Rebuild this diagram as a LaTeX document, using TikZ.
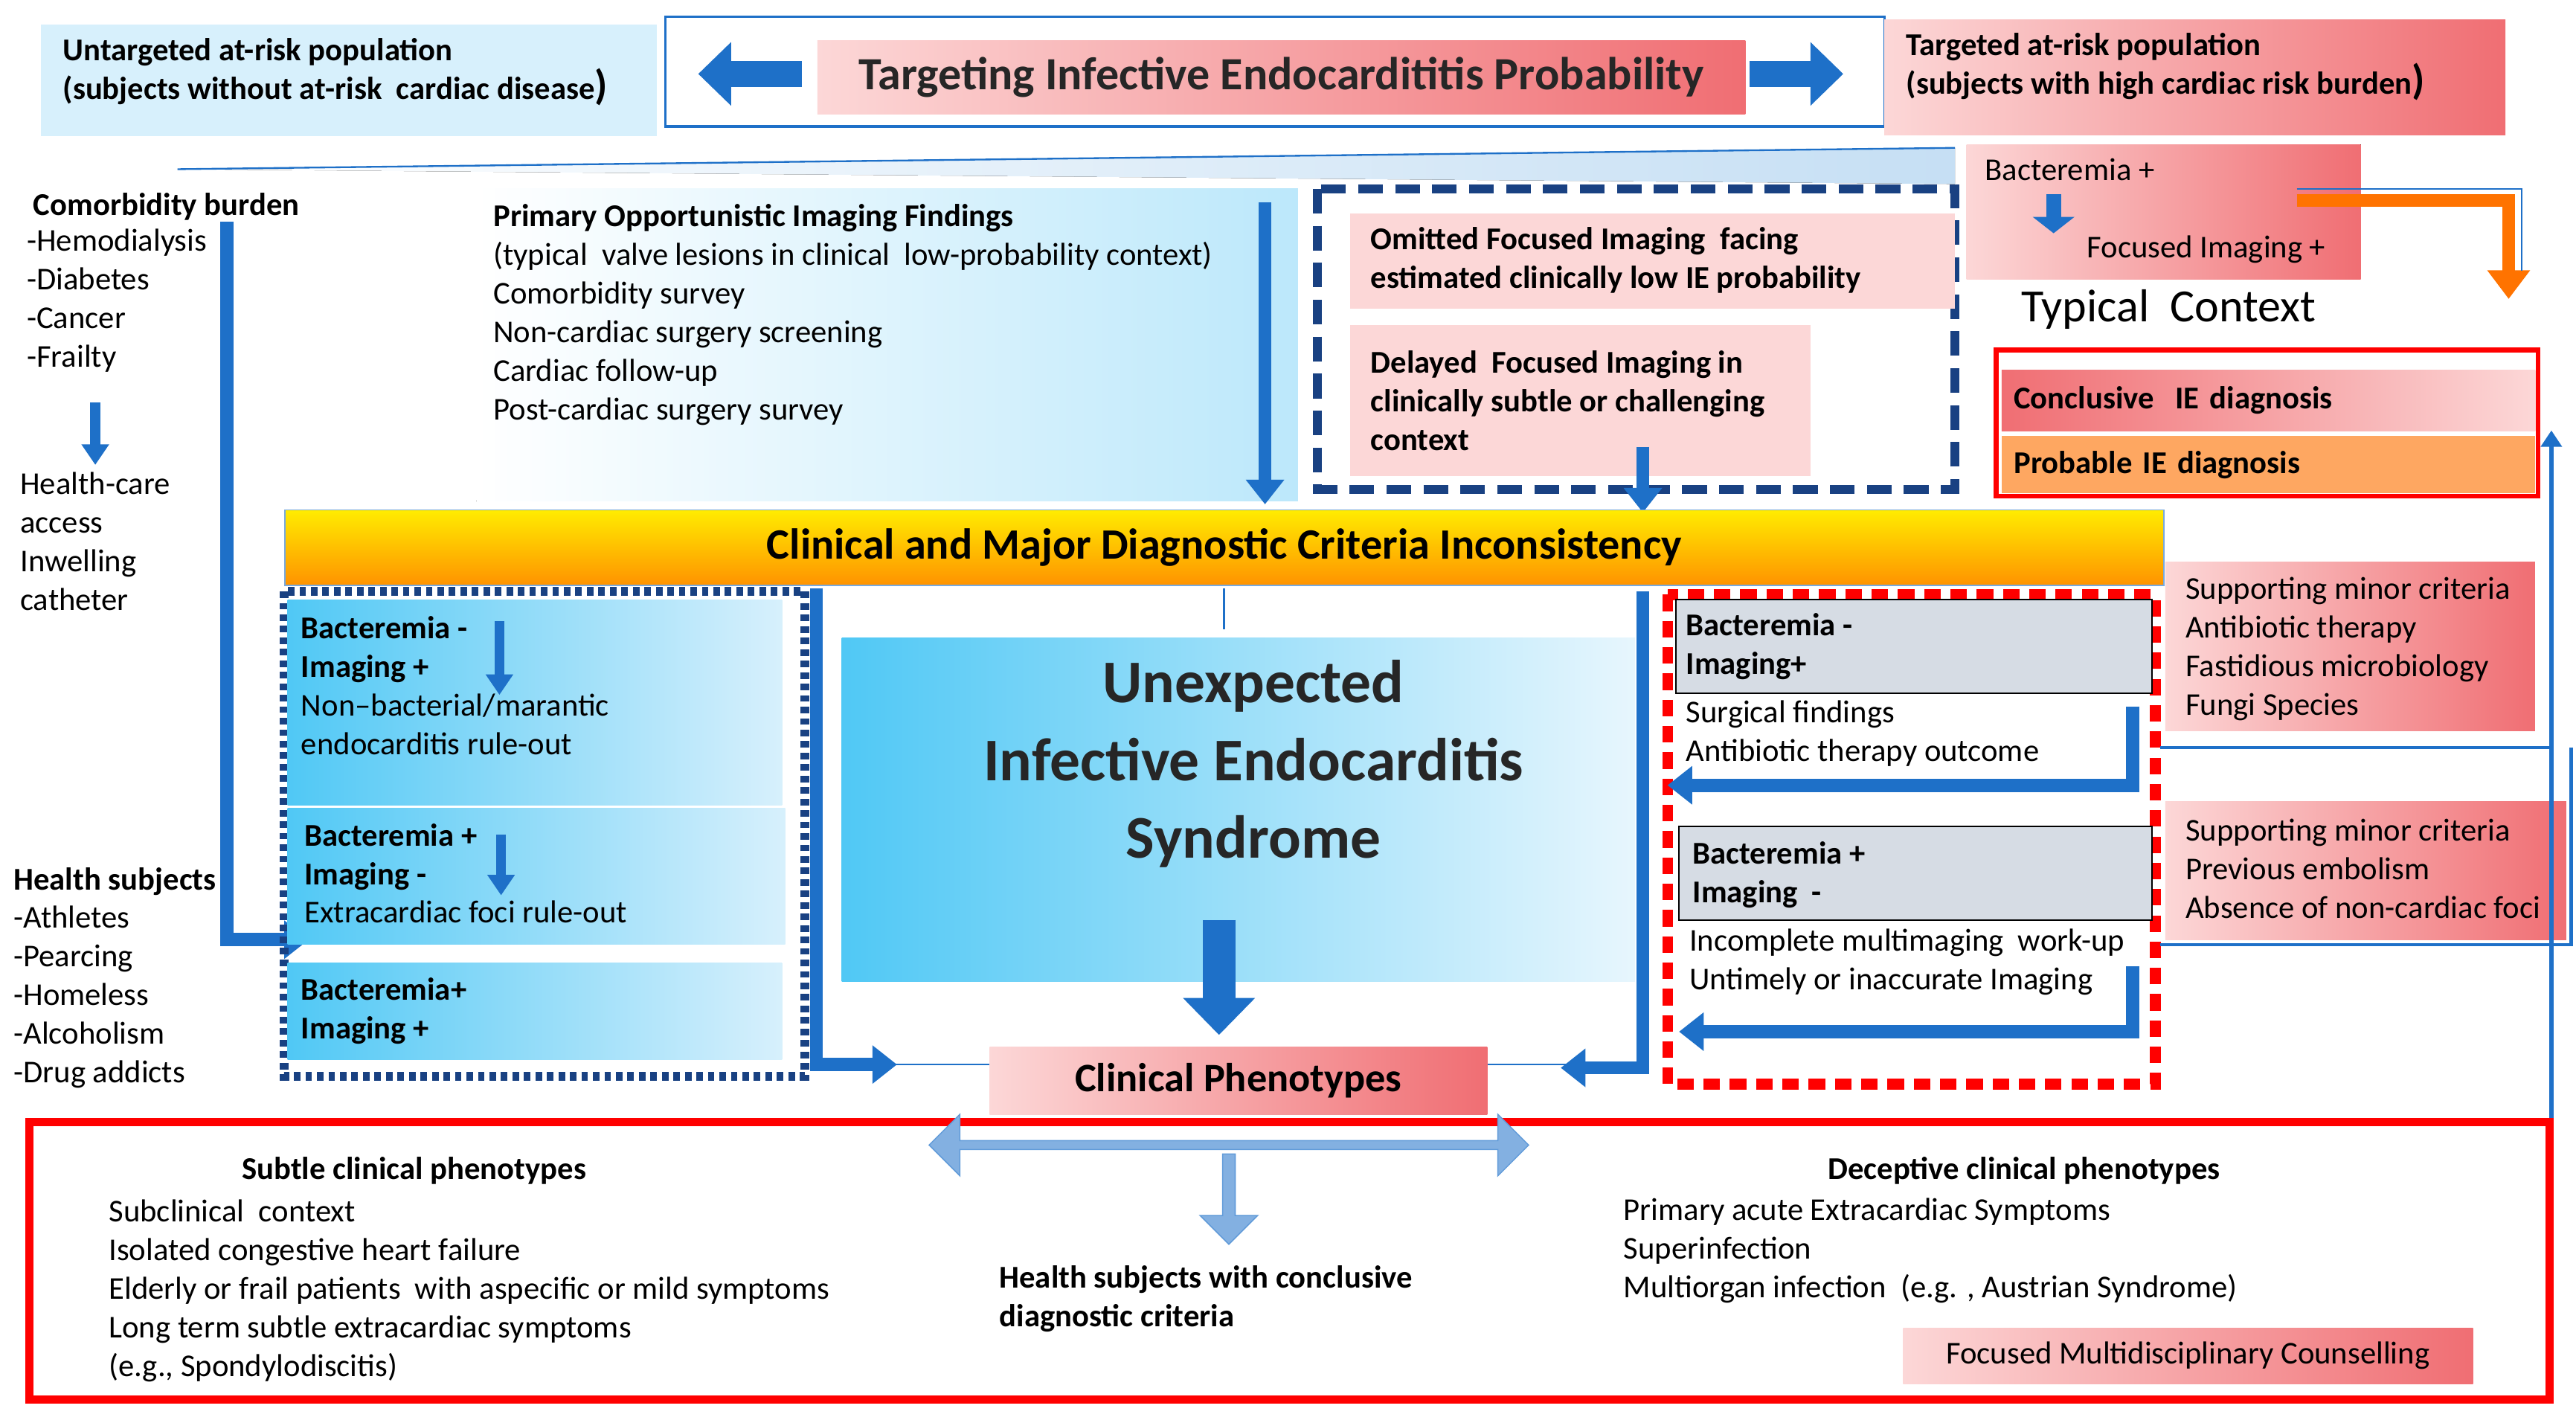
\documentclass[tikz,border=0pt]{standalone}
\usepackage{fontspec}
\setmainfont{Carlito}
\usetikzlibrary{arrows.meta,shapes.arrows}
\definecolor{ablue}{RGB}{30,112,200}
\definecolor{navy}{RGB}{25,65,130}
\definecolor{pinkA}{RGB}{240,110,115}
\definecolor{pinkB}{RGB}{252,215,215}
\definecolor{skyA}{RGB}{80,200,245}
\definecolor{skyB}{RGB}{215,240,252}
\definecolor{grayb}{RGB}{214,220,228}
\begin{document}
\begin{tikzpicture}[x=0.02cm,y=-0.02cm,
  txt/.style={anchor=north west,align=left,inner sep=0pt,font=\fontsize{11}{13.4}\selectfont},
  btxt/.style={txt,font=\fontsize{11}{13.4}\selectfont\bfseries},
  pinkbox/.style={left color=pinkA,right color=pinkB,draw=none},
  pinkboxr/.style={left color=pinkB,right color=pinkA,draw=none},
  skybox/.style={left color=skyA,right color=skyB,draw=none},
  fat/.style={ablue,line width=0.16cm,-{Triangle[width=0.45cm,length=0.3cm]}},
  thin/.style={ablue,line width=0.6pt},
  small/.style={ablue,line width=0.12cm,-{Triangle[width=0.32cm,length=0.25cm]}}]
\useasboundingbox (0,0) rectangle (1568,864);
% top row
\fill[skyB] (25,15) rectangle (400,83);
\node[btxt] (untg) at (38,23) {Untargeted at-risk population\\(subjects without at-risk\ \ cardiac disease{\Large)}};
\draw[ablue,line width=0.8pt,fill=white] (405,10) rectangle (1147,77);
\node[pinkboxr,minimum width=11.3cm,minimum height=0.9cm,font=\fontsize{16}{19}\selectfont\bfseries,text=black!85] (title) at (780,47) {Targeting Infective Endocardititis Probability};
\coordinate (la) at (488,45); \coordinate (lb) at (425,45);
\draw[ablue,line width=0.32cm,-{Triangle[width=0.75cm,length=0.4cm]}] (la) -- (lb);
\coordinate (ra) at (1065,45); \coordinate (rb) at (1122,45);
\draw[ablue,line width=0.32cm,-{Triangle[width=0.75cm,length=0.4cm]}] (ra) -- (rb);
\fill[pinkboxr] (1147,12) rectangle (1525,82);
\node[btxt] (tg) at (1160,20) {Targeted at-risk population\\(subjects with high cardiac risk burden{\Large)}};
% wedge
\fill[left color=white,right color=skyB!70!ablue!60] (108,103) -- (1190,90) -- (1190,112) -- cycle;
\draw[thin] (108,103) -- (1190,90);
% left texts
\node[btxt] (comorb) at (20,117) {Comorbidity burden};
\node[txt] (clist) at (16,139) {-Hemodialysis\\-Diabetes\\-Cancer\\-Frailty};
\coordinate (h1) at (58,245); \coordinate (h2) at (58,283);
\draw[small] (h1) -- (h2);
\node[txt] (hc) at (12,287) {Health-care\\access\\Inwelling\\catheter};
\node[btxt] (hs) at (8,528) {Health subjects};
\node[txt] (hlist) at (8,551) {-Athletes\\-Pearcing\\-Homeless\\-Alcoholism\\-Drug addicts};
\coordinate (v1) at (138,135); \coordinate (v2) at (138,572); \coordinate (v3) at (188,572);
\draw[fat] (v1) -- (v2) -- (v3);
% primary opportunistic
\fill[left color=white,right color=skyB!80!skyA] (290,115) rectangle (790,305);
\node[btxt] (pof) at (300,124) {Primary Opportunistic Imaging Findings};
\node[txt] (plist) at (300,147) {(typical\ \ valve lesions in clinical\ \ low-probability context)\\Comorbidity survey\\Non-cardiac surgery screening\\Cardiac follow-up\\Post-cardiac surgery survey};
\coordinate (d1) at (770,123); \coordinate (d2) at (770,307);
\draw[fat] (d1) -- (d2);
% dashed box
\draw[navy,line width=0.11cm,dash pattern=on 0.3cm off 0.15cm] (802,115) rectangle (1190,298);
\fill[pinkB] (822,130) rectangle (1190,188);
\node[btxt] (om) at (834,138) {Omitted Focused Imaging\ \ facing\\estimated clinically low IE probability};
\fill[pinkB] (822,198) rectangle (1102,290);
\node[btxt] (del) at (834,213) {Delayed\ \ Focused Imaging in\\clinically subtle or challenging\\context};
\coordinate (e1) at (1000,272); \coordinate (e2) at (1000,312);
\draw[fat] (e1) -- (e2);
% top right
\fill[pinkboxr] (1197,88) rectangle (1437,170);
\node[txt] (bp) at (1208,96) {Bacteremia +};
\node[txt] (fi) at (1270,143) {Focused Imaging +};
\coordinate (f1) at (1250,118); \coordinate (f2) at (1250,142);
\draw[small,line width=0.18cm,-{Triangle[width=0.5cm,length=0.2cm]}] (f1) -- (f2);
\coordinate (o1) at (1398,122); \coordinate (o2) at (1527,122); \coordinate (o3) at (1527,182);
\draw[orange!90!red,line width=0.16cm,-{Triangle[width=0.5cm,length=0.35cm]}] (o1) -- (o2) -- (o3);
\draw[ablue,line width=0.5pt] (1398,115) -- (1535,115) -- (1535,165);
\node[anchor=north,inner sep=0pt,font=\fontsize{16}{19}\selectfont] (tc) at (1320,176) {Typical\ \ Context};
\draw[red,line width=1.6pt] (1215,213) rectangle (1545,302);
\node[pinkbox,anchor=north west,minimum width=6.5cm,minimum height=0.74cm,text width=6.2cm,font=\fontsize{11}{13}\selectfont\bfseries] (conc) at (1218,225) {Conclusive\ \ IE diagnosis};
\node[fill=orange!55!pinkB,anchor=north west,minimum width=6.5cm,minimum height=0.7cm,text width=6.2cm,font=\fontsize{11}{13}\selectfont\bfseries] (prob) at (1218,265) {Probable IE diagnosis};
% yellow bar
\node[top color=yellow!85!orange,bottom color=orange!85!yellow,draw=ablue!60,anchor=north west,minimum width=22.88cm,minimum height=0.92cm,font=\fontsize{15}{18}\selectfont\bfseries] (bar) at (173,310) {Clinical and Major Diagnostic Criteria Inconsistency};
% left column
\draw[navy,line width=0.11cm,dash pattern=on 0.08cm off 0.06cm] (173,360) rectangle (490,655);
\draw[black,line width=1pt,skybox] (175,365) rectangle (476,490);
\node[btxt] (b1) at (183,375) {Bacteremia -\\Imaging +};
\node[txt] (b1t) at (183,422) {Non--bacterial/marantic\\endocarditis rule-out};
\coordinate (s1) at (304,378); \coordinate (s2) at (304,423);
\draw[small] (s1) -- (s2);
\draw[black,line width=1pt,skybox] (175,492) rectangle (478,575);
\node[btxt] (b2) at (185,501) {Bacteremia +\\Imaging -};
\node[txt] (b2t) at (185,548) {Extracardiac foci rule-out};
\coordinate (s3) at (305,508); \coordinate (s4) at (305,545);
\draw[small] (s3) -- (s4);
\draw[black,line width=1pt,skybox] (175,586) rectangle (476,645);
\node[btxt] (b3) at (183,595) {Bacteremia+\\Imaging +};
\coordinate (l1) at (497,358); \coordinate (l2) at (497,648); \coordinate (l3) at (546,648);
\draw[fat] (l1) -- (l2) -- (l3);
% centre
\draw[thin] (545,648) -- (955,648);
\draw[thin] (745,358) -- (745,383);
\node[left color=skyA,right color=skyB!60,anchor=north west,minimum width=9.66cm,minimum height=4.18cm,inner sep=0pt] (ies) at (512,388) {};
\node[font=\fontsize{21}{27}\selectfont\bfseries,align=center,text=black!85] (iet) at (763,465) {Unexpected\\Infective Endocarditis\\Syndrome};
\coordinate (c1) at (742,560); \coordinate (c2) at (742,630);
\draw[ablue,line width=0.4cm,-{Triangle[width=0.85cm,length=0.45cm]}] (c1) -- (c2);
\node[pinkboxr,anchor=north west,minimum width=6.06cm,minimum height=0.82cm,font=\fontsize{14}{16}\selectfont\bfseries] (cp) at (602,637) {Clinical Phenotypes};
% right column
\coordinate (r1) at (1000,360); \coordinate (r2) at (1000,650); \coordinate (r3) at (950,650);
\draw[fat] (r1) -- (r2) -- (r3);
\draw[red,line width=0.13cm,dash pattern=on 0.2cm off 0.12cm] (1015,362) rectangle (1312,660);
\draw[black,fill=grayb] (1020,365) rectangle (1310,422);
\node[btxt] (g1) at (1026,373) {Bacteremia -\\Imaging+};
\node[txt] (g1t) at (1026,426) {Surgical findings\\Antibiotic therapy outcome};
\coordinate (q1) at (1298,430); \coordinate (q2) at (1298,478); \coordinate (q3) at (1015,478);
\draw[fat] (q1) -- (q2) -- (q3);
\draw[black,fill=grayb] (1022,503) rectangle (1310,560);
\node[btxt] (g2) at (1030,512) {Bacteremia +\\Imaging\ \ -};
\node[txt] (g2t) at (1028,565) {Incomplete multimaging\ \ work-up\\Untimely or inaccurate Imaging};
\coordinate (p1) at (1298,588); \coordinate (p2) at (1298,628); \coordinate (p3) at (1022,628);
\draw[fat] (p1) -- (p2) -- (p3);
\fill[pinkboxr] (1318,342) rectangle (1543,445);
\node[txt] (sm1) at (1330,351) {Supporting minor criteria\\Antibiotic therapy\\Fastidious microbiology\\Fungi Species};
\fill[pinkboxr] (1318,488) rectangle (1562,572);
\node[txt] (sm2) at (1330,498) {Supporting minor criteria\\Previous embolism\\Absence of non-cardiac foci};
\draw[thin,line width=1.2pt] (1315,455) -- (1553,455);
\draw[thin,line width=1.2pt] (1315,575) -- (1565,575) -- (1565,455);
\coordinate (u1) at (1553,690); \coordinate (u2) at (1553,262);
\draw[ablue,line width=1.6pt,-{Triangle[width=0.25cm,length=0.2cm]}] (u1) -- (u2);
% bottom
\draw[red,line width=0.1cm] (18,683) rectangle (1552,852);
\node[single arrow,double arrow,fill=ablue!55,draw=ablue!70,minimum height=7.3cm,minimum width=0.75cm,single arrow head extend=0.1cm,inner sep=1pt] (dbl) at (748,697) {};
\node[single arrow,fill=ablue!55,draw=ablue!70,rotate=-90,minimum height=1.1cm,minimum width=0.7cm,single arrow head extend=0.15cm,inner sep=1pt] (dn) at (748,728) {};
\node[btxt,anchor=north] (sub) at (252,704) {Subtle clinical phenotypes};
\node[txt] (slist) at (66,730) {Subclinical\ \ context\\Isolated congestive heart failure\\Elderly or frail patients\ \ with aspecific or mild symptoms\\Long term subtle extracardiac symptoms\\(e.g., Spondylodiscitis)};
\node[btxt] (hsc) at (608,770) {Health subjects with conclusive\\diagnostic criteria};
\node[btxt,anchor=north] (dec) at (1232,704) {Deceptive clinical phenotypes};
\node[txt] (dlist) at (988,729) {Primary acute Extracardiac Symptoms\\Superinfection\\Multiorgan infection\ \ (e.g. , Austrian Syndrome)};
\node[pinkboxr,anchor=north west,minimum width=6.94cm,minimum height=0.68cm,font=\fontsize{11}{13}\selectfont] (fmc) at (1158,808) {Focused Multidisciplinary Counselling};
\end{tikzpicture}
\end{document}
